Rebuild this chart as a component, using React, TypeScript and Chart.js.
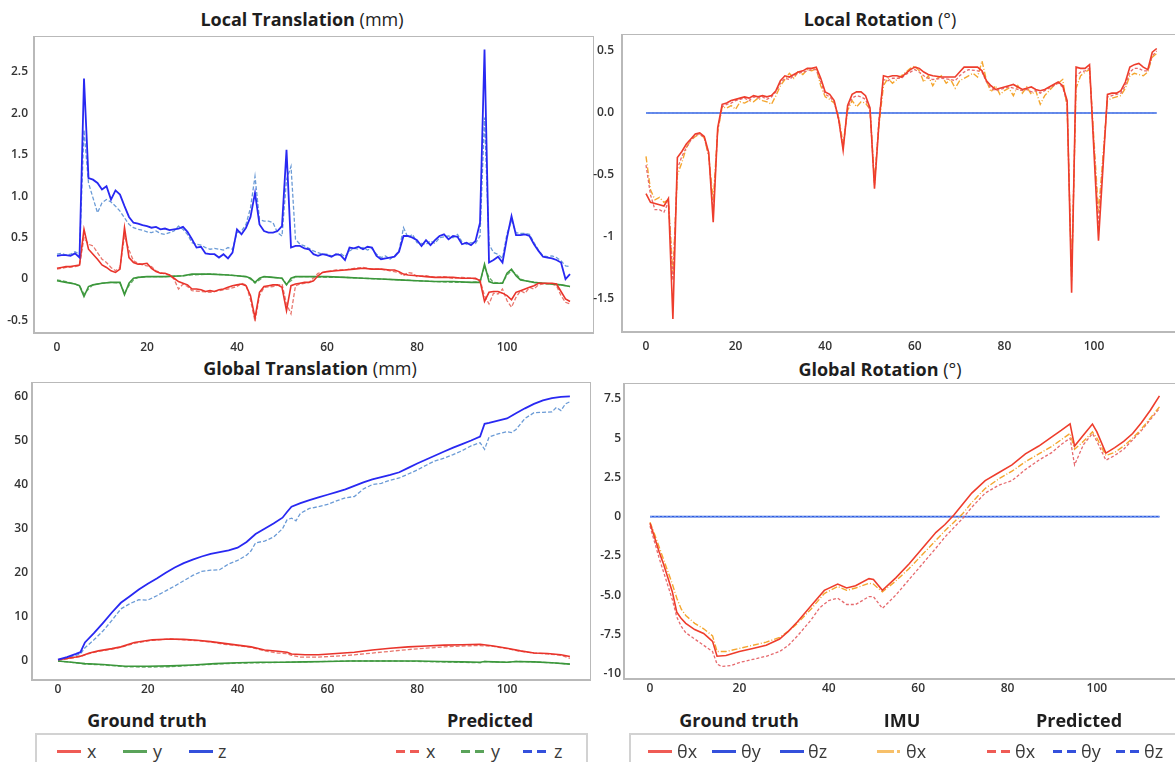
import React, { useEffect, useRef } from "react";
import { Chart, registerables } from "chart.js";

Chart.register(...registerables);

type Pt = [number, number];

// Frame index ticks shared by every panel
const FRAME_TICKS = [0, 20, 40, 60, 80, 100];

// ---------- Local translation (mm) ----------
const localTransGtX: Pt[] = [
  [0, 0.13], [1, 0.14], [2, 0.15], [3, 0.15], [4, 0.16], [5, 0.17], [6, 0.6], [7, 0.36], [8, 0.3], [9, 0.24],
  [10, 0.17], [11, 0.14], [12, 0.1], [13, 0.08], [14, 0.12], [15, 0.62], [16, 0.26], [17, 0.2], [18, 0.18], [19, 0.18],
  [20, 0.19], [21, 0.13], [22, 0.09], [23, 0.07], [24, 0.07], [25, 0.05], [26, 0.01], [27, -0.03], [28, -0.05], [29, -0.07],
  [30, -0.12], [31, -0.12], [32, -0.13], [33, -0.15], [34, -0.14], [35, -0.15], [36, -0.13], [37, -0.12], [38, -0.1], [39, -0.08],
  [40, -0.07], [41, -0.06], [42, -0.08], [43, -0.2], [44, -0.47], [45, -0.16], [46, -0.09], [47, -0.08], [48, -0.07], [49, -0.07],
  [50, -0.1], [51, -0.38], [52, -0.08], [53, -0.06], [54, -0.05], [55, -0.04], [56, -0.04], [57, -0.02], [58, 0.04], [59, 0.08],
  [60, 0.09], [62, 0.1], [64, 0.11], [66, 0.12], [68, 0.13], [70, 0.12], [72, 0.12], [74, 0.11], [75, 0.11], [76, 0.09],
  [77, 0.06], [78, 0.05], [80, 0.04], [82, 0.03], [84, 0.02], [86, 0.02], [88, 0.02], [90, 0.01], [92, 0.01], [93, 0.01],
  [94, -0.02], [95, -0.27], [96, -0.16], [97, -0.15], [98, -0.15], [99, -0.17], [100, -0.2], [101, -0.25], [102, -0.16], [103, -0.14],
  [104, -0.12], [105, -0.1], [106, -0.08], [107, -0.05], [108, -0.05], [110, -0.05], [111, -0.06], [112, -0.15], [113, -0.24], [114, -0.27],
];
const localTransGtY: Pt[] = [
  [0, -0.02], [2, -0.04], [4, -0.06], [5, -0.08], [6, -0.21], [7, -0.09], [8, -0.07], [10, -0.05], [12, -0.04], [14, -0.04],
  [15, -0.19], [16, -0.05], [17, 0.01], [18, 0.02], [20, 0.03], [24, 0.03], [28, 0.04], [30, 0.06], [34, 0.06], [38, 0.05],
  [40, 0.04], [42, 0.03], [43, 0.01], [44, -0.04], [45, 0.01], [46, 0.03], [48, 0.02], [50, 0.01], [51, -0.07], [52, 0.01],
  [53, 0.03], [56, 0.03], [60, 0.03], [64, 0.02], [68, 0.01], [72, 0.0], [76, -0.01], [80, -0.02], [84, -0.03], [88, -0.03],
  [92, -0.04], [94, -0.04], [95, 0.18], [96, -0.03], [97, -0.05], [99, -0.05], [100, 0.07], [101, 0.12], [102, 0.04], [103, -0.01],
  [104, -0.02], [106, -0.04], [108, -0.05], [110, -0.06], [112, -0.07], [114, -0.09],
];
const localTransGtZ: Pt[] = [
  [0, 0.28], [1, 0.29], [2, 0.29], [3, 0.28], [4, 0.31], [5, 0.26], [6, 2.42], [7, 1.22], [8, 1.2], [9, 1.16],
  [10, 1.08], [11, 1.12], [12, 0.96], [13, 1.07], [14, 1.02], [15, 0.88], [16, 0.75], [17, 0.68], [18, 0.67], [19, 0.65],
  [20, 0.64], [21, 0.62], [22, 0.63], [23, 0.6], [24, 0.61], [25, 0.59], [26, 0.6], [27, 0.61], [28, 0.63], [29, 0.57],
  [30, 0.48], [31, 0.38], [32, 0.39], [33, 0.31], [34, 0.3], [35, 0.3], [36, 0.26], [37, 0.3], [38, 0.25], [39, 0.32],
  [40, 0.6], [41, 0.54], [42, 0.62], [43, 0.75], [44, 1.04], [45, 0.66], [46, 0.58], [47, 0.56], [48, 0.56], [49, 0.58],
  [50, 0.64], [51, 1.56], [52, 0.38], [53, 0.4], [54, 0.4], [55, 0.37], [56, 0.36], [57, 0.3], [58, 0.28], [59, 0.3],
  [60, 0.29], [61, 0.27], [62, 0.3], [63, 0.29], [64, 0.23], [65, 0.38], [66, 0.37], [67, 0.39], [68, 0.36], [69, 0.39],
  [70, 0.38], [71, 0.28], [72, 0.24], [73, 0.25], [74, 0.26], [75, 0.27], [76, 0.33], [77, 0.52], [78, 0.52], [79, 0.5],
  [80, 0.47], [81, 0.4], [82, 0.47], [83, 0.41], [84, 0.47], [85, 0.52], [86, 0.54], [87, 0.48], [88, 0.52], [89, 0.51],
  [90, 0.42], [91, 0.44], [92, 0.41], [93, 0.46], [94, 0.68], [95, 2.77], [96, 0.2], [97, 0.23], [98, 0.27], [99, 0.2],
  [100, 0.5], [101, 0.76], [102, 0.53], [103, 0.53], [104, 0.54], [105, 0.52], [106, 0.42], [107, 0.34], [108, 0.27], [109, 0.26],
  [110, 0.25], [111, 0.23], [112, 0.2], [113, 0.0], [114, 0.06],
];
const localTransPredX: Pt[] = [
  [0, 0.12], [2, 0.14], [4, 0.15], [5, 0.16], [6, 0.5], [7, 0.42], [8, 0.4], [9, 0.32], [10, 0.24], [11, 0.2],
  [12, 0.14], [13, 0.1], [14, 0.14], [15, 0.52], [16, 0.35], [17, 0.22], [18, 0.19], [19, 0.17], [20, 0.16], [21, 0.15],
  [22, 0.1], [23, 0.08], [24, 0.06], [25, 0.05], [26, 0.0], [27, -0.12], [28, -0.06], [29, -0.09], [30, -0.14], [32, -0.15],
  [34, -0.16], [36, -0.14], [38, -0.12], [40, -0.09], [41, -0.05], [42, -0.07], [43, -0.25], [44, -0.51], [45, -0.2], [46, -0.1],
  [48, -0.09], [50, -0.06], [51, -0.3], [52, -0.42], [53, -0.08], [54, -0.06], [56, -0.04], [58, 0.07], [60, 0.09], [62, 0.11],
  [64, 0.11], [66, 0.13], [68, 0.14], [70, 0.12], [72, 0.12], [74, 0.1], [76, 0.08], [77, 0.04], [78, 0.08], [79, 0.07],
  [80, 0.03], [82, 0.04], [84, 0.02], [86, 0.03], [88, 0.01], [90, 0.02], [92, 0.01], [94, -0.01], [95, -0.2], [96, -0.3],
  [97, -0.17], [98, -0.18], [99, -0.12], [100, -0.26], [101, -0.34], [102, -0.22], [103, -0.14], [104, -0.17], [105, -0.1], [106, -0.12],
  [107, -0.07], [108, -0.06], [110, -0.06], [111, -0.08], [112, -0.2], [113, -0.28], [114, -0.3],
];
const localTransPredY: Pt[] = [
  [0, -0.01], [2, -0.03], [4, -0.06], [5, -0.08], [6, -0.18], [7, -0.12], [8, -0.07], [10, -0.05], [12, -0.04], [14, -0.05],
  [15, -0.17], [16, -0.08], [17, -0.01], [18, 0.02], [20, 0.03], [24, 0.03], [28, 0.04], [30, 0.05], [34, 0.06], [38, 0.05],
  [40, 0.04], [42, 0.03], [43, 0.0], [44, -0.05], [45, -0.01], [46, 0.03], [48, 0.02], [50, 0.01], [51, -0.06], [52, -0.02],
  [53, 0.03], [56, 0.03], [60, 0.02], [64, 0.02], [68, 0.01], [72, 0.0], [76, -0.01], [80, -0.02], [84, -0.03], [88, -0.04],
  [92, -0.04], [94, -0.03], [95, 0.15], [96, 0.02], [97, -0.04], [99, -0.05], [100, 0.05], [101, 0.1], [102, 0.06], [103, 0.0],
  [104, -0.02], [106, -0.04], [108, -0.05], [110, -0.06], [112, -0.07], [114, -0.09],
];
const localTransPredZ: Pt[] = [
  [0, 0.3], [1, 0.31], [2, 0.29], [3, 0.3], [4, 0.33], [5, 0.3], [6, 1.8], [7, 1.16], [8, 0.98], [9, 0.8],
  [10, 0.92], [11, 0.96], [12, 0.93], [13, 0.88], [14, 0.82], [15, 0.74], [16, 0.66], [17, 0.62], [18, 0.6], [19, 0.59],
  [20, 0.57], [21, 0.56], [22, 0.58], [23, 0.55], [24, 0.54], [25, 0.56], [26, 0.58], [27, 0.64], [28, 0.6], [29, 0.54],
  [30, 0.44], [31, 0.42], [32, 0.41], [33, 0.38], [34, 0.36], [35, 0.37], [36, 0.36], [37, 0.35], [38, 0.38], [39, 0.36],
  [40, 0.56], [41, 0.58], [42, 0.66], [43, 0.86], [44, 1.24], [45, 0.72], [46, 0.7], [47, 0.7], [48, 0.68], [49, 0.56],
  [50, 0.52], [51, 1.2], [52, 1.36], [53, 0.48], [54, 0.42], [55, 0.4], [56, 0.37], [57, 0.34], [58, 0.32], [59, 0.3],
  [60, 0.3], [61, 0.28], [62, 0.29], [63, 0.31], [64, 0.27], [65, 0.34], [66, 0.37], [67, 0.36], [68, 0.38], [69, 0.35],
  [70, 0.37], [71, 0.3], [72, 0.26], [73, 0.28], [74, 0.24], [75, 0.28], [76, 0.34], [77, 0.62], [78, 0.5], [79, 0.54],
  [80, 0.44], [81, 0.43], [82, 0.42], [83, 0.46], [84, 0.43], [85, 0.5], [86, 0.51], [87, 0.52], [88, 0.5], [89, 0.54],
  [90, 0.45], [91, 0.42], [92, 0.44], [93, 0.43], [94, 0.52], [95, 1.95], [96, 0.42], [97, 0.32], [98, 0.3], [99, 0.25],
  [100, 0.55], [101, 0.7], [102, 0.56], [103, 0.55], [104, 0.55], [105, 0.54], [106, 0.44], [107, 0.35], [108, 0.28], [109, 0.27],
  [110, 0.28], [111, 0.26], [112, 0.22], [113, 0.16], [114, 0.15],
];
const localTransTicks = [2.5, 2.0, 1.5, 1.0, 0.5, 0, -0.5];
const localTransTickLabels = ["2.5", "2.0", "1.5", "1.0", "0.5", "0", "-0.5"];

// ---------- Local rotation (deg) ----------
const localRotGtX: Pt[] = [
  [0, -0.65], [1, -0.72], [2, -0.73], [3, -0.74], [4, -0.75], [5, -0.69], [6, -1.66], [7, -0.36], [8, -0.31], [9, -0.25],
  [10, -0.21], [11, -0.17], [12, -0.16], [13, -0.19], [14, -0.32], [15, -0.88], [16, -0.12], [17, 0.07], [18, 0.08], [19, 0.1],
  [20, 0.11], [21, 0.12], [22, 0.13], [23, 0.12], [24, 0.14], [25, 0.13], [26, 0.14], [27, 0.13], [28, 0.14], [29, 0.18],
  [30, 0.26], [31, 0.3], [32, 0.29], [33, 0.31], [34, 0.33], [35, 0.34], [36, 0.36], [37, 0.36], [38, 0.37], [39, 0.28],
  [40, 0.17], [41, 0.15], [42, 0.1], [43, -0.05], [44, -0.3], [45, 0.06], [46, 0.15], [47, 0.17], [48, 0.17], [49, 0.14],
  [50, 0.04], [51, -0.61], [52, -0.08], [53, 0.3], [54, 0.29], [55, 0.3], [56, 0.3], [57, 0.29], [58, 0.32], [59, 0.35],
  [60, 0.37], [61, 0.36], [62, 0.33], [63, 0.31], [64, 0.3], [66, 0.29], [68, 0.29], [69, 0.29], [70, 0.33], [71, 0.37],
  [72, 0.37], [74, 0.37], [75, 0.34], [76, 0.26], [77, 0.22], [78, 0.19], [79, 0.2], [80, 0.21], [81, 0.22], [82, 0.23],
  [83, 0.21], [84, 0.19], [85, 0.2], [86, 0.21], [87, 0.19], [88, 0.18], [89, 0.19], [90, 0.21], [91, 0.23], [92, 0.25],
  [93, 0.22], [94, 0.1], [95, -1.45], [96, 0.37], [97, 0.36], [98, 0.36], [99, 0.39], [101, -1.03], [103, 0.15], [104, 0.16],
  [105, 0.16], [106, 0.18], [107, 0.25], [108, 0.37], [109, 0.39], [110, 0.4], [111, 0.37], [112, 0.35], [113, 0.49], [114, 0.52],
];
const localRotImuX: Pt[] = [
  [0, -0.35], [1, -0.62], [2, -0.7], [3, -0.68], [4, -0.72], [5, -0.7], [6, -1.3], [7, -0.5], [8, -0.4], [9, -0.28],
  [10, -0.22], [11, -0.19], [12, -0.17], [13, -0.2], [14, -0.35], [15, -0.7], [16, -0.15], [17, 0.05], [18, 0.04], [19, 0.06],
  [20, 0.03], [21, 0.09], [22, 0.08], [23, 0.1], [24, 0.09], [25, 0.12], [26, 0.1], [27, 0.09], [28, 0.07], [29, 0.14],
  [30, 0.22], [31, 0.27], [32, 0.32], [33, 0.28], [34, 0.34], [35, 0.31], [36, 0.35], [37, 0.34], [38, 0.36], [39, 0.22],
  [40, 0.13], [41, 0.11], [42, 0.08], [43, -0.03], [44, -0.25], [45, 0.02], [46, 0.1], [47, 0.05], [48, 0.09], [49, 0.08],
  [50, 0.03], [51, -0.55], [52, -0.1], [53, 0.22], [54, 0.28], [55, 0.24], [56, 0.27], [57, 0.3], [58, 0.33], [59, 0.36],
  [60, 0.38], [61, 0.34], [62, 0.25], [63, 0.3], [64, 0.22], [65, 0.28], [66, 0.3], [67, 0.24], [68, 0.27], [69, 0.2],
  [70, 0.26], [71, 0.28], [72, 0.3], [73, 0.32], [74, 0.29], [75, 0.42], [76, 0.26], [77, 0.17], [78, 0.22], [79, 0.15],
  [80, 0.18], [81, 0.2], [82, 0.14], [83, 0.22], [84, 0.16], [85, 0.21], [86, 0.15], [87, 0.18], [88, 0.07], [89, 0.14],
  [90, 0.18], [91, 0.22], [92, 0.24], [93, 0.27], [94, 0.05], [95, -1.3], [96, 0.2], [97, 0.3], [98, 0.33], [99, 0.35],
  [101, -0.8], [103, 0.1], [104, 0.12], [105, 0.13], [106, 0.14], [107, 0.2], [108, 0.3], [109, 0.32], [110, 0.31], [111, 0.3],
  [112, 0.33], [113, 0.45], [114, 0.48],
];
const localRotPredX: Pt[] = [
  [0, -0.42], [1, -0.66], [2, -0.78], [3, -0.78], [4, -0.8], [5, -0.72], [6, -1.35], [7, -0.45], [8, -0.35], [9, -0.28],
  [10, -0.22], [11, -0.18], [12, -0.17], [13, -0.2], [14, -0.34], [15, -0.8], [16, -0.14], [17, 0.05], [18, 0.07], [19, 0.08],
  [20, 0.1], [21, 0.11], [22, 0.12], [23, 0.1], [24, 0.13], [25, 0.12], [26, 0.13], [27, 0.11], [28, 0.13], [29, 0.17],
  [30, 0.24], [31, 0.28], [32, 0.27], [33, 0.3], [34, 0.32], [35, 0.33], [36, 0.34], [37, 0.35], [38, 0.35], [39, 0.25],
  [40, 0.15], [41, 0.13], [42, 0.09], [43, -0.06], [44, -0.28], [45, 0.04], [46, 0.12], [47, 0.14], [48, 0.13], [49, 0.11],
  [50, 0.02], [51, -0.58], [52, -0.05], [53, 0.27], [54, 0.26], [55, 0.28], [56, 0.28], [57, 0.28], [58, 0.31], [59, 0.33],
  [60, 0.35], [61, 0.33], [62, 0.3], [63, 0.28], [64, 0.27], [66, 0.28], [68, 0.27], [69, 0.26], [70, 0.3], [71, 0.33],
  [72, 0.35], [74, 0.34], [75, 0.33], [76, 0.25], [77, 0.2], [78, 0.18], [79, 0.19], [80, 0.2], [81, 0.21], [82, 0.2],
  [83, 0.19], [84, 0.18], [85, 0.19], [86, 0.17], [87, 0.18], [88, 0.16], [89, 0.18], [90, 0.2], [91, 0.22], [92, 0.24],
  [93, 0.21], [94, 0.08], [95, -1.35], [96, 0.3], [97, 0.33], [98, 0.34], [99, 0.36], [101, -0.9], [103, 0.13], [104, 0.14],
  [105, 0.15], [106, 0.16], [107, 0.22], [108, 0.33], [109, 0.36], [110, 0.36], [111, 0.34], [112, 0.34], [113, 0.46], [114, 0.5],
];
const localRotGtYZ: Pt[] = [[0, 0], [114, 0]];
const localRotPredYZ: Pt[] = [[0, 0], [114, 0]];
const localRotTicks = [0.5, 0, -0.5, -1, -1.5];
const localRotTickLabels = ["0.5", "0.0", "-0.5", "-1", "-1.5"];

// ---------- Global translation (mm) ----------
const globalTransGtX: Pt[] = [
  [0, 0.3], [2, 0.6], [4, 0.9], [5, 1.1], [7, 1.8], [9, 2.3], [12, 2.8], [14, 3.2], [17, 4.2], [21, 4.8],
  [25, 5.0], [28, 4.9], [31, 4.7], [34, 4.4], [37, 4.0], [40, 3.6], [43, 3.2], [46, 2.5], [49, 2.2], [51, 2.0],
  [52, 1.6], [55, 1.4], [58, 1.4], [62, 1.7], [66, 2.0], [70, 2.5], [74, 2.9], [78, 3.2], [82, 3.4], [86, 3.6],
  [90, 3.7], [94, 3.8], [97, 3.4], [100, 2.9], [103, 2.3], [106, 1.8], [109, 1.7], [112, 1.4], [114, 1.0],
];
const globalTransGtY: Pt[] = [
  [0, 0.0], [3, -0.3], [6, -0.6], [10, -0.8], [15, -1.2], [20, -1.2], [25, -1.1], [30, -0.9], [35, -0.6], [40, -0.4],
  [45, -0.3], [50, -0.3], [55, -0.2], [60, -0.1], [65, 0.0], [70, 0.0], [75, 0.0], [80, 0.0], [85, -0.1], [90, -0.2],
  [94, -0.3], [95, -0.1], [97, -0.2], [100, -0.3], [102, -0.1], [106, -0.2], [110, -0.4], [114, -0.7],
];
const globalTransGtZ: Pt[] = [
  [0, 0.3], [2, 0.9], [4, 1.6], [5, 2.0], [6, 4.2], [8, 6.3], [10, 8.6], [12, 11.0], [14, 13.2], [16, 14.7],
  [18, 16.2], [20, 17.5], [22, 18.7], [24, 20.0], [26, 21.2], [28, 22.2], [30, 23.0], [32, 23.7], [34, 24.3], [36, 24.7],
  [38, 25.1], [40, 25.7], [42, 27.0], [44, 28.8], [46, 30.0], [48, 31.2], [50, 32.5], [51, 33.8], [52, 35.0], [54, 35.8],
  [56, 36.5], [58, 37.1], [60, 37.7], [62, 38.3], [64, 38.9], [66, 39.7], [68, 40.5], [70, 41.2], [72, 41.7], [74, 42.2],
  [76, 42.8], [78, 43.8], [80, 44.8], [82, 45.7], [84, 46.6], [86, 47.5], [88, 48.4], [90, 49.2], [92, 50.0], [94, 50.9],
  [95, 53.8], [96, 54.0], [98, 54.5], [100, 55.0], [102, 56.2], [104, 57.3], [106, 58.3], [108, 59.1], [110, 59.6], [112, 59.9],
  [114, 60.0],
];
const globalTransPredX: Pt[] = [
  [0, 0.2], [2, 0.5], [4, 0.8], [5, 1.0], [7, 1.7], [9, 2.2], [12, 2.7], [14, 3.1], [17, 4.0], [21, 4.7],
  [25, 5.0], [28, 4.8], [31, 4.6], [34, 4.3], [37, 3.8], [40, 3.5], [43, 3.1], [46, 2.3], [49, 1.8], [51, 1.7],
  [52, 1.3], [54, 0.9], [58, 0.9], [62, 1.1], [66, 1.4], [70, 1.8], [74, 2.2], [78, 2.6], [82, 2.9], [86, 3.2],
  [90, 3.4], [94, 3.5], [97, 3.3], [100, 2.8], [103, 2.2], [106, 1.8], [109, 1.6], [112, 1.3], [114, 0.6],
];
const globalTransPredY: Pt[] = [
  [0, 0.0], [3, -0.3], [6, -0.7], [10, -0.9], [15, -1.3], [20, -1.4], [25, -1.3], [30, -1.0], [35, -0.7], [40, -0.5],
  [45, -0.4], [50, -0.3], [55, -0.2], [60, -0.1], [65, 0.0], [70, 0.0], [75, 0.0], [80, -0.1], [85, -0.2], [90, -0.3],
  [94, -0.4], [95, -0.1], [97, -0.2], [100, -0.3], [102, -0.1], [106, -0.2], [110, -0.4], [114, -0.7],
];
const globalTransPredZ: Pt[] = [
  [0, 0.2], [2, 0.7], [4, 1.3], [5, 1.6], [6, 3.0], [8, 4.8], [10, 6.8], [12, 9.2], [14, 11.8], [16, 13.0],
  [18, 13.9], [20, 13.8], [22, 14.8], [24, 15.9], [26, 17.0], [28, 18.2], [30, 19.4], [32, 20.3], [34, 20.6], [36, 20.7],
  [38, 22.0], [40, 22.8], [42, 24.0], [43, 25.0], [44, 26.8], [46, 27.2], [48, 28.1], [50, 30.0], [51, 32.0], [52, 32.4],
  [53, 31.8], [54, 33.5], [56, 34.6], [58, 35.0], [60, 35.5], [62, 36.3], [64, 37.0], [66, 37.3], [68, 39.0], [70, 40.0],
  [72, 40.3], [74, 41.0], [76, 41.5], [78, 42.4], [80, 43.3], [82, 44.4], [84, 45.4], [86, 46.0], [88, 46.8], [90, 47.7],
  [92, 48.8], [94, 49.5], [95, 48.0], [96, 50.8], [98, 51.5], [100, 52.0], [101, 51.8], [102, 52.5], [104, 55.0], [106, 56.3],
  [108, 56.4], [110, 56.5], [111, 57.5], [112, 56.8], [113, 58.3], [114, 58.8],
];
const globalTransTicks = [60, 50, 40, 30, 20, 10, 0];
const globalTransTickLabels = ["60", "50", "40", "30", "20", "10", "0"];

// ---------- Global rotation (deg) ----------
const globalRotGtX: Pt[] = [
  [0, -0.42], [1, -1.3], [2, -2.2], [3, -3.0], [4, -3.9], [5, -4.8], [6, -6.1], [7, -6.5], [8, -6.8], [10, -7.2],
  [12, -7.45], [13, -7.7], [14, -7.95], [15, -8.9], [17, -8.85], [20, -8.6], [23, -8.4], [26, -8.2], [29, -7.8], [31, -7.3],
  [33, -6.7], [36, -5.7], [39, -4.7], [42, -4.3], [44, -4.55], [46, -4.4], [49, -3.95], [50, -4.0], [52, -4.7], [55, -3.9],
  [58, -3.0], [61, -2.0], [64, -1.0], [66, -0.5], [68, 0.1], [70, 0.8], [72, 1.5], [75, 2.3], [78, 2.8], [81, 3.3],
  [84, 4.0], [87, 4.5], [90, 5.1], [92, 5.5], [94, 5.92], [95, 4.5], [97, 5.2], [99, 5.9], [100, 5.4], [102, 4.05],
  [104, 4.4], [106, 4.8], [108, 5.3], [110, 6.0], [112, 6.8], [114, 7.7],
];
const globalRotImuX: Pt[] = [
  [0, -0.35], [1, -1.1], [2, -1.9], [3, -2.7], [4, -3.5], [5, -4.3], [6, -5.2], [7, -5.9], [8, -6.3], [10, -6.8],
  [12, -7.15], [14, -7.6], [15, -8.6], [17, -8.6], [20, -8.4], [23, -8.2], [26, -8.0], [29, -7.7], [31, -7.3], [33, -6.8],
  [36, -5.9], [39, -4.9], [42, -4.45], [44, -4.7], [46, -4.55], [49, -4.25], [50, -4.3], [52, -4.8], [55, -4.1], [58, -3.3],
  [61, -2.4], [64, -1.5], [66, -0.9], [68, -0.35], [70, 0.2], [72, 0.9], [75, 1.8], [78, 2.4], [81, 2.9], [84, 3.5],
  [87, 4.0], [90, 4.5], [92, 4.9], [94, 5.3], [95, 4.3], [97, 4.8], [99, 5.4], [100, 5.0], [102, 3.9], [104, 4.1],
  [106, 4.5], [108, 5.0], [110, 5.6], [112, 6.3], [114, 7.0],
];
const globalRotPredX: Pt[] = [
  [0, -0.6], [1, -1.6], [2, -2.6], [3, -3.5], [4, -4.4], [5, -5.3], [6, -6.4], [7, -7.0], [8, -7.4], [10, -7.8],
  [12, -8.2], [14, -8.6], [15, -9.4], [16, -9.55], [18, -9.5], [20, -9.3], [23, -9.1], [26, -8.9], [29, -8.6], [31, -8.2],
  [33, -7.6], [36, -6.6], [38, -5.8], [40, -5.35], [42, -5.2], [44, -5.6], [46, -5.6], [49, -5.1], [50, -5.1], [52, -5.85],
  [55, -5.0], [58, -4.0], [61, -3.0], [64, -2.0], [66, -1.3], [68, -0.7], [70, -0.1], [72, 0.6], [75, 1.5], [78, 2.0],
  [81, 2.3], [84, 3.0], [87, 3.6], [90, 4.1], [92, 4.6], [94, 5.0], [95, 3.3], [97, 4.6], [99, 5.3], [100, 4.8],
  [102, 3.6], [104, 3.9], [106, 4.3], [108, 4.9], [110, 5.5], [112, 6.2], [114, 6.9],
];
const globalRotGtYZ: Pt[] = [[0, 0], [114, 0]];
const globalRotPredYZ: Pt[] = [[0, 0], [114, 0]];
const globalRotTicks = [7.5, 5, 2.5, 0, -2.5, -5, -7.5, -10];
const globalRotTickLabels = ["7.5", "5", "2.5", "0", "-2.5", "-5.0", "-7.5", "-10"];

// ---------- styling ----------
const C = {
  gtX: "#e9342b",
  gtY: "#3b973b",
  gtZ: "#2828f2",
  prX: "#e8776e",
  prY: "#6aac6a",
  prZ: "#6b9bd6",
  rotGt: "#ee3d2c",
  rotImu: "#f4a62e",
  rotPr: "#e66a6e",
  rotZero: "#2e5ce0",
  rotZeroPr: "#6b93ee",
};
const FONT = "'Open Sans', 'Noto Sans', sans-serif";
const AXIS_W = 44;
const AXIS_H = 24;

interface Series {
  data: Pt[];
  color: string;
  width: number;
  dash?: number[];
}

interface PanelSpec {
  left: number;
  top: number;
  right: number;
  bottom: number;
  xMin: number;
  xMax: number;
  yMin: number;
  yMax: number;
  yTicks: number[];
  yLabels: string[];
  yPad: number;
  xPad: number;
  series: Series[];
}

const framePlugin = {
  id: "plotFrame",
  afterDatasetsDraw(chart: any) {
    const { ctx, chartArea: a } = chart;
    ctx.save();
    ctx.strokeStyle = "#b9b9b9";
    ctx.lineWidth = 2;
    ctx.strokeRect(a.left, a.top, a.right - a.left, a.bottom - a.top);
    ctx.restore();
  },
};

function Panel({ spec }: { spec: PanelSpec }) {
  const ref = useRef<HTMLCanvasElement | null>(null);
  const w = spec.right - spec.left + AXIS_W;
  const h = spec.bottom - spec.top + AXIS_H;

  useEffect(() => {
    const tickFont = { family: FONT, size: 12, weight: 600 as any };
    const chart = new Chart(ref.current as HTMLCanvasElement, {
      type: "line",
      data: {
        datasets: spec.series.map((s) => ({
          data: s.data.map(([x, y]) => ({ x, y })),
          borderColor: s.color,
          borderWidth: s.width,
          borderDash: s.dash ?? [],
          pointRadius: 0,
          tension: 0,
          fill: false,
        })),
      },
      options: {
        animation: false,
        responsive: false,
        maintainAspectRatio: false,
        events: [],
        layout: { padding: 0 },
        plugins: { legend: { display: false }, tooltip: { enabled: false } },
        scales: {
          x: {
            type: "linear",
            min: spec.xMin,
            max: spec.xMax,
            grid: { display: false, drawTicks: false },
            border: { display: false },
            ticks: {
              padding: spec.xPad,
              font: tickFont,
              color: "#333333",
              maxRotation: 0,
              autoSkip: false,
              callback: (v: any) => String(v),
            },
            afterBuildTicks: (s: any) => {
              s.ticks = FRAME_TICKS.map((v) => ({ value: v }));
            },
            afterFit: (s: any) => {
              s.height = AXIS_H;
              s.paddingLeft = 0;
              s.paddingRight = 0;
            },
          },
          y: {
            type: "linear",
            min: spec.yMin,
            max: spec.yMax,
            grid: { display: false, drawTicks: false },
            border: { display: false },
            ticks: {
              padding: spec.yPad,
              font: tickFont,
              color: "#333333",
              autoSkip: false,
              callback: (v: any) => {
                const i = spec.yTicks.indexOf(Number(v));
                return i >= 0 ? spec.yLabels[i] : "";
              },
            },
            afterBuildTicks: (s: any) => {
              s.ticks = spec.yTicks.map((v) => ({ value: v }));
            },
            afterFit: (s: any) => {
              s.width = AXIS_W;
              s.paddingTop = 0;
              s.paddingBottom = 0;
            },
          },
        },
      } as any,
      plugins: [framePlugin],
    });
    return () => chart.destroy();
  }, []);

  return (
    <canvas
      ref={ref}
      width={w}
      height={h}
      style={{ position: "absolute", left: spec.left - AXIS_W, top: spec.top, width: w, height: h }}
    />
  );
}

const localTransSpec: PanelSpec = {
  left: 34, top: 36, right: 594, bottom: 333,
  xMin: -5.11, xMax: 119.33, yMin: -0.651, yMax: 2.934,
  yTicks: localTransTicks, yLabels: localTransTickLabels, yPad: 6, xPad: 7,
  series: [
    { data: localTransGtZ, color: C.gtZ, width: 1.8 },
    { data: localTransGtX, color: C.gtX, width: 1.6 },
    { data: localTransGtY, color: C.gtY, width: 1.6 },
    { data: localTransPredZ, color: C.prZ, width: 1.3, dash: [4, 2] },
    { data: localTransPredX, color: C.prX, width: 1.3, dash: [4, 2] },
    { data: localTransPredY, color: C.prY, width: 1.3, dash: [4, 2] },
  ],
};

const localRotSpec: PanelSpec = {
  left: 622, top: 34, right: 1176, bottom: 332,
  xMin: -5.36, xMax: 118.3, yMin: -1.766, yMax: 0.637,
  yTicks: localRotTicks, yLabels: localRotTickLabels, yPad: 8, xPad: 7,
  series: [
    { data: localRotGtX, color: C.rotGt, width: 1.6 },
    { data: localRotPredX, color: C.rotPr, width: 1.3, dash: [3, 2] },
    { data: localRotImuX, color: C.rotImu, width: 1.4, dash: [6, 2, 1, 2] },
    { data: localRotPredYZ, color: C.rotZeroPr, width: 1.3, dash: [2, 2] },
    { data: localRotGtYZ, color: C.rotZero, width: 1.7 },
  ],
};

const globalTransSpec: PanelSpec = {
  left: 32, top: 382, right: 591, bottom: 680,
  xMin: -5.79, xMax: 118.7, yMin: -4.31, yMax: 63.27,
  yTicks: globalTransTicks, yLabels: globalTransTickLabels, yPad: 4, xPad: 2,
  series: [
    { data: globalTransGtZ, color: C.gtZ, width: 1.8 },
    { data: globalTransGtX, color: C.gtX, width: 1.6 },
    { data: globalTransGtY, color: C.gtY, width: 1.6 },
    { data: globalTransPredZ, color: C.prZ, width: 1.3, dash: [4, 2] },
    { data: globalTransPredX, color: C.prX, width: 1.3, dash: [4, 2] },
    { data: globalTransPredY, color: C.prY, width: 1.3, dash: [4, 2] },
  ],
};

const globalRotSpec: PanelSpec = {
  left: 624, top: 383, right: 1176, bottom: 679,
  xMin: -5.82, xMax: 117.7, yMin: -10.35, yMax: 8.52,
  yTicks: globalRotTicks, yLabels: globalRotTickLabels, yPad: 3, xPad: 2,
  series: [
    { data: globalRotGtX, color: C.rotGt, width: 1.6 },
    { data: globalRotImuX, color: C.rotImu, width: 1.4, dash: [6, 2, 1, 2] },
    { data: globalRotPredX, color: C.rotPr, width: 1.3, dash: [3, 2] },
    { data: globalRotPredYZ, color: C.rotZeroPr, width: 1.3, dash: [2, 2] },
    { data: globalRotGtYZ, color: C.rotZero, width: 1.7 },
  ],
};

function Title({ cx, cy, bold, unit }: { cx: number; cy: number; bold: string; unit: string }) {
  return (
    <div
      style={{
        position: "absolute",
        left: cx - 200,
        top: cy - 12,
        width: 400,
        textAlign: "center",
        fontFamily: FONT,
        fontSize: 18,
        lineHeight: "24px",
        color: "#1e1e1e",
        whiteSpace: "nowrap",
      }}
    >
      <span style={{ fontWeight: 700 }}>{bold}</span>
      <span style={{ fontWeight: 400 }}>{" " + unit}</span>
    </div>
  );
}

type Swatch = "solid" | "dashed" | "dashdot";

function Sample({ x, color, kind }: { x: number; color: string; kind: Swatch }) {
  const base: React.CSSProperties = { position: "absolute", top: 750, height: 3, background: color };
  if (kind === "solid") return <div style={{ ...base, left: x, width: 24 }} />;
  if (kind === "dashed")
    return (
      <>
        <div style={{ ...base, left: x, width: 9 }} />
        <div style={{ ...base, left: x + 14, width: 9 }} />
      </>
    );
  return (
    <>
      <div style={{ ...base, left: x, width: 17 }} />
      <div style={{ ...base, left: x + 20, width: 3 }} />
    </>
  );
}

function ItemText({ x, text }: { x: number; text: string }) {
  return (
    <div
      style={{
        position: "absolute",
        left: x,
        top: 739,
        fontFamily: FONT,
        fontSize: 18,
        lineHeight: "24px",
        color: "#3a3a3a",
        whiteSpace: "nowrap",
      }}
    >
      {text}
    </div>
  );
}

function Header({ cx, text }: { cx: number; text: string }) {
  return (
    <div
      style={{
        position: "absolute",
        left: cx - 100,
        width: 200,
        top: 708,
        textAlign: "center",
        fontFamily: FONT,
        fontWeight: 700,
        fontSize: 18,
        lineHeight: "24px",
        color: "#1e1e1e",
      }}
    >
      {text}
    </div>
  );
}

const transLegend: { x: number; tx: number; color: string; kind: Swatch; label: string }[] = [
  { x: 57, tx: 87, color: "#ef5b55", kind: "solid", label: "x" },
  { x: 123, tx: 153, color: "#5aa35a", kind: "solid", label: "y" },
  { x: 189, tx: 218, color: "#3450dc", kind: "solid", label: "z" },
  { x: 396, tx: 426, color: "#ef5b55", kind: "dashed", label: "x" },
  { x: 461, tx: 491, color: "#5aa35a", kind: "dashed", label: "y" },
  { x: 523, tx: 554, color: "#3450dc", kind: "dashed", label: "z" },
];

const rotLegend: { x: number; tx: number; color: string; kind: Swatch; label: string }[] = [
  { x: 648, tx: 677, color: "#ef5b55", kind: "solid", label: "θx" },
  { x: 712, tx: 741, color: "#3450dc", kind: "solid", label: "θy" },
  { x: 780, tx: 808, color: "#3450dc", kind: "solid", label: "θz" },
  { x: 877, tx: 906, color: "#f7c06a", kind: "dashdot", label: "θx" },
  { x: 987, tx: 1015, color: "#ef5b55", kind: "dashed", label: "θx" },
  { x: 1053, tx: 1081, color: "#3450dc", kind: "dashed", label: "θy" },
  { x: 1116, tx: 1144, color: "#3450dc", kind: "dashed", label: "θz" },
];

export default function App() {
  return (
    <div
      style={{
        position: "absolute",
        left: 0,
        top: 0,
        width: 1175,
        height: 762,
        overflow: "hidden",
        background: "#ffffff",
      }}
    >
      <Title cx={302} cy={19} bold="Local Translation" unit="(mm)" />
      <Title cx={880} cy={19} bold="Local Rotation" unit="(°)" />
      <Title cx={310} cy={368} bold="Global Translation" unit="(mm)" />
      <Title cx={880} cy={369} bold="Global Rotation" unit="(°)" />

      <Panel spec={localTransSpec} />
      <Panel spec={localRotSpec} />
      <Panel spec={globalTransSpec} />
      <Panel spec={globalRotSpec} />

      <Header cx={147} text="Ground truth" />
      <Header cx={490} text="Predicted" />
      <div
        style={{
          position: "absolute",
          left: 35,
          top: 733,
          width: 553,
          height: 60,
          border: "2px solid #d2d2d2",
          boxSizing: "border-box",
        }}
      />
      {transLegend.map((it, i) => (
        <React.Fragment key={"t" + i}>
          <Sample x={it.x} color={it.color} kind={it.kind} />
          <ItemText x={it.tx} text={it.label} />
        </React.Fragment>
      ))}

      <Header cx={739} text="Ground truth" />
      <Header cx={902} text="IMU" />
      <Header cx={1079} text="Predicted" />
      <div
        style={{
          position: "absolute",
          left: 629,
          top: 733,
          width: 560,
          height: 60,
          border: "2px solid #d2d2d2",
          boxSizing: "border-box",
        }}
      />
      {rotLegend.map((it, i) => (
        <React.Fragment key={"r" + i}>
          <Sample x={it.x} color={it.color} kind={it.kind} />
          <ItemText x={it.tx} text={it.label} />
        </React.Fragment>
      ))}
    </div>
  );
}
